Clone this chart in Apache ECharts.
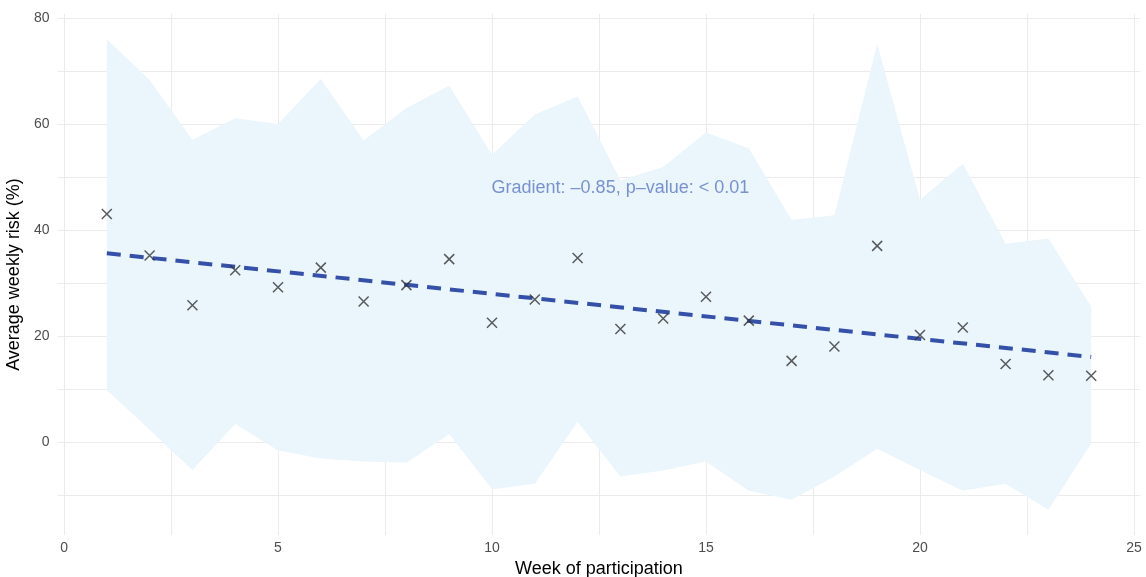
<!DOCTYPE html>
<html>
<head>
<meta charset="utf-8">
<script src="https://cdn.jsdelivr.net/npm/echarts@6/dist/echarts.min.js"></script>
<style>html,body{margin:0;padding:0;background:#fff}#c{width:1146px;height:577px}</style>
</head>
<body>
<div id="c"></div>
<script>
// ---- data ----
const weeks = [1,2,3,4,5,6,7,8,9,10,11,12,13,14,15,16,17,18,19,20,21,22,23,24];
const avgRisk = [43.0,35.2,25.8,32.4,29.2,32.9,26.5,29.6,34.5,22.5,26.9,34.7,21.3,23.3,27.4,22.9,15.3,18.0,37.0,20.2,21.6,14.7,12.6,12.5];
const upperBand = [76.0,68.3,57.0,61.1,60.0,68.5,56.9,63.0,67.2,54.2,61.8,65.2,49.4,51.9,58.4,55.4,41.9,42.8,75.1,45.7,52.5,37.4,38.4,25.5];
const lowerBand = [9.8,2.3,-5.3,3.4,-1.6,-3.1,-3.7,-3.9,1.5,-8.9,-7.9,3.8,-6.5,-5.4,-3.7,-9.2,-10.9,-6.5,-1.3,-5.3,-9.2,-7.9,-12.8,-0.3];
const trendWeeks = [1, 24];
const trendValues = [35.6, 16.05];
const annotationText = 'Gradient: \u20130.85, p\u2013value: < 0.01';
const annotationPos = [13.0, 47.9];
const xLabelTicks = [0,5,10,15,20,25];
const xGridTicks = [0,2.5,5,7.5,10,12.5,15,17.5,20,22.5,25];
const yLabelTicks = [0,20,40,60,80];
const yGridTicks = [-10,0,10,20,30,40,50,60,70,80];

const font = '"Liberation Sans", Arial, Helvetica, sans-serif';
const chart = echarts.init(document.getElementById('c'), null, {renderer: 'canvas'});

chart.setOption({
  animation: false,
  backgroundColor: '#ffffff',
  grid: {left: 57.6, right: 5.6, top: 14, bottom: 42, containLabel: false, outerBoundsMode: 'none'},
  xAxis: {
    type: 'value', min: -0.15, max: 25.15,
    name: 'Week of participation', nameLocation: 'middle', nameGap: 24,
    nameTextStyle: {color: '#000', fontSize: 18, fontFamily: font},
    axisLine: {show: false}, axisTick: {show: false, customValues: xGridTicks},
    axisLabel: {customValues: xLabelTicks, color: '#4d4d4d', fontSize: 14, fontFamily: font, margin: 6},
    splitLine: {show: true, lineStyle: {color: '#ebebeb', width: 1}}
  },
  yAxis: {
    type: 'value', min: -17.55, max: 80.75,
    name: 'Average weekly risk (%)', nameLocation: 'middle', nameGap: 25,
    nameTextStyle: {color: '#000', fontSize: 18, fontFamily: font},
    axisLine: {show: false}, axisTick: {show: false, customValues: yGridTicks},
    axisLabel: {customValues: yLabelTicks, color: '#4d4d4d', fontSize: 14, fontFamily: font, margin: 8},
    splitLine: {show: true, lineStyle: {color: '#ebebeb', width: 1}}
  },
  series: [
    {
      type: 'custom', silent: true, z: 1,
      data: [0],
      renderItem: function (params, api) {
        const pts = [];
        for (let i = 0; i < weeks.length; i++) pts.push(api.coord([weeks[i], upperBand[i]]));
        for (let i = weeks.length - 1; i >= 0; i--) pts.push(api.coord([weeks[i], lowerBand[i]]));
        return {type: 'polygon', shape: {points: pts}, style: {fill: '#eaf6fb', stroke: 'none'}};
      }
    },
    {
      type: 'line', data: trendWeeks.map((w, i) => [w, trendValues[i]]),
      symbol: 'none', lineStyle: {color: '#3450a8', width: 4, type: [14, 9]}, z: 3
    },
    {
      type: 'scatter', data: weeks.map((w, i) => [w, avgRisk[i]]),
      symbol: 'path://M0,0L10,10M10,0L0,10', symbolSize: 10,
      itemStyle: {color: 'none', borderColor: '#333333', borderWidth: 1.5}, z: 4
    },
    {
      type: 'scatter', data: [annotationPos], symbolSize: 0,
      label: {show: true, position: 'inside', formatter: annotationText,
        color: '#5a78c8', fontSize: 18, fontFamily: font}, z: 5
    }
  ]
});
</script>
</body>
</html>
